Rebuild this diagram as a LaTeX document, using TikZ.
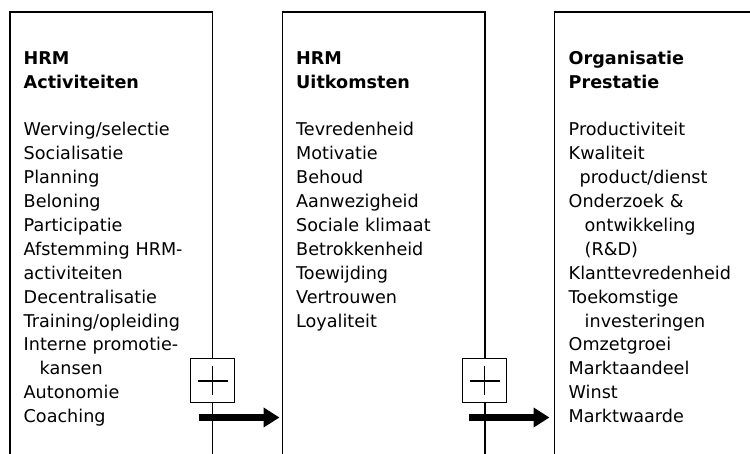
\documentclass[tikz,border=0pt]{standalone}
\usepackage{fontspec}
\setmainfont{DejaVu Sans}
\usetikzlibrary{arrows.meta}
\begin{document}
\begin{tikzpicture}[x=1pt,y=-1pt,
  frame/.style={line width=1.1pt},
  col/.style={anchor=north west,inner sep=0pt,text width=190pt,align=left,
    font=\fontsize{17.6}{23.9}\selectfont},
  plusbox/.style={draw,fill=white,line width=1.1pt,minimum size=43.5pt,inner sep=0pt},
  plusline/.style={line width=1.8pt},
  flow/.style={line width=7.5pt,-{Triangle[length=16pt,width=19pt]}}]
\useasboundingbox (0,0) rectangle (750,454);
% frames (open at the bottom)
\draw[frame] (10,454) -- (10,12) -- (212.5,12) -- (212.5,454);
\draw[frame] (282.7,454) -- (282.7,12) -- (485,12) -- (485,454);
\draw[frame] (554.3,454) -- (554.3,12) -- (752,12);
% columns
\newcommand{\fst}{\rule{0pt}{17pt}}
\node[col] (c1) at (23.5,47) {\fst\textbf{HRM}\\
\textbf{Activiteiten}\\[23.9pt]
Werving/selectie\\
Socialisatie\\
Planning\\
Beloning\\
Participatie\\
Afstemming HRM-\\
activiteiten\\
Decentralisatie\\
Training/opleiding\\
Interne promotie-\\
\hspace*{16pt}kansen\\
Autonomie\\
Coaching};
\node[col] (c2) at (296,47) {\fst\textbf{HRM}\\
\textbf{Uitkomsten}\\[23.9pt]
Tevredenheid\\
Motivatie\\
Behoud\\
Aanwezigheid\\
Sociale klimaat\\
Betrokkenheid\\
Toewijding\\
Vertrouwen\\
Loyaliteit};
\node[col] (c3) at (568.5,47) {\fst\textbf{Organisatie}\\
\textbf{Prestatie}\\[23.9pt]
Productiviteit\\
Kwaliteit\\
\hspace*{11pt}product/dienst\\
Onderzoek \&\\
\hspace*{16pt}ontwikkeling\\
\hspace*{16pt}(R\&D)\\
Klanttevredenheid\\
Toekomstige\\
\hspace*{16pt}investeringen\\
Omzetgroei\\
Marktaandeel\\
Winst\\
Marktwaarde};
% plus boxes
\node[plusbox] (p1) at (212.5,380.7) {};
\draw[plusline] ([xshift=-15pt]p1.center) -- ([xshift=15pt]p1.center);
\draw[plusline] ([yshift=14.5pt]p1.center) -- ([yshift=-14.5pt]p1.center);
\node[plusbox] (p2) at (484.5,380.7) {};
\draw[plusline] ([xshift=-15pt]p2.center) -- ([xshift=15pt]p2.center);
\draw[plusline] ([yshift=14.5pt]p2.center) -- ([yshift=-14.5pt]p2.center);
% arrows
\coordinate (a1s) at (199,417.5);
\coordinate (a1e) at (279.5,417.5);
\coordinate (a2s) at (469,417.5);
\coordinate (a2e) at (549.5,417.5);
\draw[flow] (a1s) -- (a1e);
\draw[flow] (a2s) -- (a2e);
\end{tikzpicture}
\end{document}
